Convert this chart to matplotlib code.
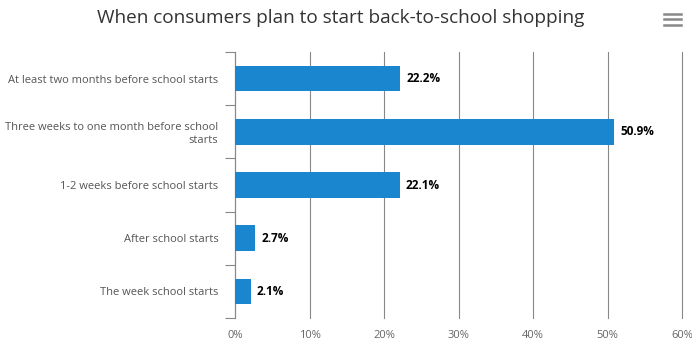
import matplotlib
matplotlib.use('Agg')
import matplotlib.pyplot as plt
import numpy as np

categories = ['At least two months before school starts',
              'Three weeks to one month before school\nstarts',
              '1-2 weeks before school starts',
              'After school starts',
              'The week school starts']
values = [22.2, 50.9, 22.1, 2.7, 2.1]
xticks = [0, 10, 20, 30, 40, 50, 60]

plt.rcParams['font.family'] = ['Open Sans', 'DejaVu Sans']

fig = plt.figure(figsize=(6.92, 3.5), dpi=100)
ax = fig.add_axes([235 / 692, 1 - 318 / 350, 447 / 692, 266 / 350])

y = np.arange(len(categories))
ax.barh(y, values, height=0.48, color='#1a86cf', zorder=3)
for yi, v in zip(y, values):
    ax.text(v + 0.8, yi, f'{v}%', va='center', ha='left',
            fontsize=8.5, fontweight='bold', color='#000000', zorder=4)

ax.set_xlim(0, 60)
ax.set_ylim(len(categories) - 0.5, -0.5)
ax.set_xticks(xticks)
ax.set_xticklabels([f'{t}%' for t in xticks], fontsize=8, color='#666666')
ax.tick_params(axis='x', length=0, pad=9)
ax.grid(axis='x', color='#888888', linewidth=0.8, zorder=0)
for gl in ax.get_xgridlines():
    gl.set_clip_on(False)

# category labels and ticks between bands
ax.set_yticks(y)
ax.set_yticklabels(categories, fontsize=8, color='#555555')
ax.tick_params(axis='y', length=0, pad=12)
ax.set_yticks(np.arange(len(categories) + 1) - 0.5, minor=True)
ax.tick_params(axis='y', which='minor', length=7, color='#888888', width=0.8)

for s in ['top', 'right', 'bottom']:
    ax.spines[s].set_visible(False)
ax.spines['left'].set_color('#888888')
ax.spines['left'].set_linewidth(0.8)

fig.text(341 / 692, 1 - 18 / 350, 'When consumers plan to start back-to-school shopping',
         ha='center', va='center', fontsize=13.7, color='#333333')

# menu icon
for yy in [14, 19, 25]:
    fig.add_artist(plt.Line2D([664 / 692, 681 / 692], [1 - yy / 350, 1 - yy / 350],
                              color='#888888', linewidth=1.8))

fig.savefig('out.png', dpi=100)
